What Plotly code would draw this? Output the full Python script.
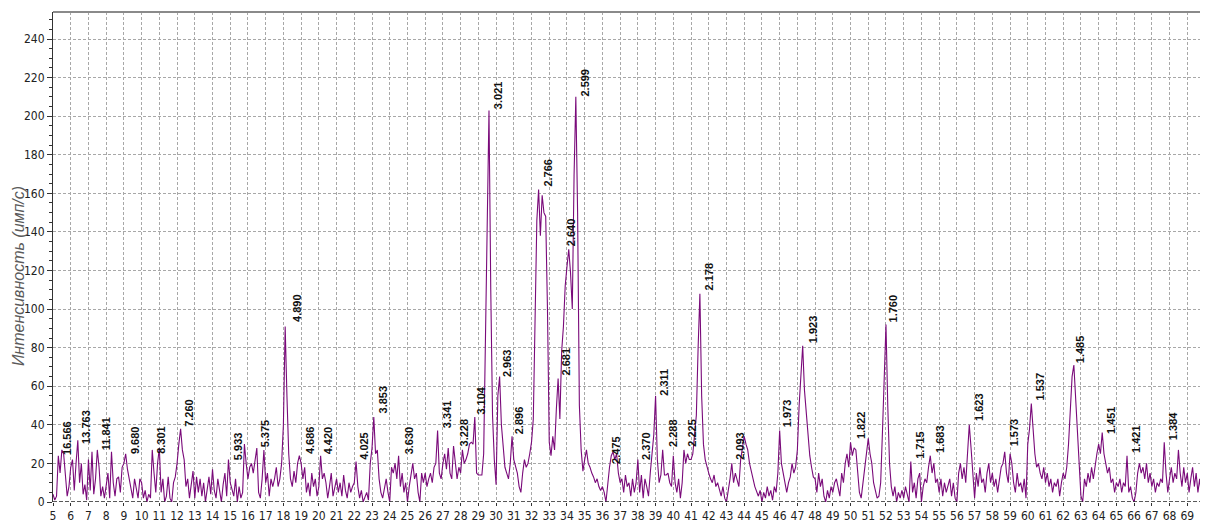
import plotly.graph_objects as go

# 2-theta sampling (degrees), step 0.1 from 5.0 to 70.0
two_theta = [round(5 + i * 0.1, 1) for i in range(651)]

# Intensity (counts/s), 0.1 deg step
i_05_10 = [4, 1, 3, 24, 15, 27, 25, 12, 3, 8,
           18, 22, 6, 20, 32, 10, 20, 4, 9, 1,
           22, 6, 26, 4, 12, 27, 18, 3, 8, 2,
           10, 15, 2, 26, 10, 3, 12, 13, 5, 18,
           20, 25, 17, 12, 8, 2, 12, 6, 2, 12]
i_10_15 = [10, 2, 6, 0, 4, 2, 27, 15, 5, 20,
           28, 5, 12, 0, 3, 13, 2, 0, 10, 13,
           20, 30, 38, 27, 22, 8, 12, 2, 10, 16,
           2, 13, 5, 12, 3, 10, 0, 8, 13, 4,
           17, 6, 2, 12, 5, 0, 9, 15, 3, 22]
i_15_20 = [10, 6, 3, 12, 0, 8, 2, 5, 30, 20,
           12, 18, 20, 15, 22, 28, 5, 2, 12, 27,
           10, 15, 3, 12, 8, 12, 18, 8, 12, 20,
           40, 91, 55, 25, 12, 8, 16, 10, 20, 24,
           20, 12, 18, 5, 10, 3, 15, 8, 12, 3]
i_20_25 = [8, 24, 12, 15, 10, 2, 8, 15, 3, 8,
           12, 5, 10, 3, 14, 6, 2, 10, 5, 8,
           10, 21, 8, 2, 6, 0, 3, 5, 1, 20,
           28, 44, 25, 27, 12, 5, 2, 8, 12, 5,
           0, 18, 15, 20, 12, 24, 8, 15, 5, 10]
i_25_30 = [0, 8, 15, 20, 12, 15, 5, 0, 15, 10,
           15, 8, 12, 15, 10, 18, 20, 37, 15, 12,
           20, 25, 17, 28, 15, 12, 29, 20, 12, 18,
           15, 27, 20, 22, 25, 30, 31, 30, 44, 15,
           14, 14, 14, 25, 80, 140, 203, 110, 45, 22]
i_30_35 = [9, 55, 65, 40, 28, 18, 15, 12, 20, 34,
           22, 18, 15, 8, 5, 15, 22, 18, 20, 25,
           31, 43, 100, 146, 162, 138, 159, 150, 148, 100,
           31, 24, 34, 27, 48, 64, 43, 78, 91, 112,
           122, 131, 119, 100, 169, 210, 150, 50, 27, 16]
i_35_40 = [22, 27, 20, 18, 15, 13, 10, 12, 8, 6,
           8, 5, 0, 10, 18, 24, 26, 22, 25, 15,
           10, 12, 5, 14, 8, 10, 3, 12, 5, 10,
           22, 5, 14, 2, 12, 8, 3, 15, 25, 35,
           55, 22, 10, 14, 27, 14, 14, 15, 10, 8]
i_40_45 = [24, 10, 5, 12, 2, 10, 27, 20, 25, 22,
           22, 25, 35, 45, 80, 108, 55, 30, 22, 18,
           15, 12, 10, 14, 8, 10, 6, 3, 8, 2,
           0, 5, 12, 20, 10, 15, 12, 8, 22, 28,
           34, 30, 27, 20, 15, 12, 8, 5, 3, 6]
i_45_50 = [0, 5, 2, 8, 3, 6, 1, 8, 5, 15,
           37, 20, 15, 8, 5, 10, 13, 20, 15, 18,
           27, 50, 65, 81, 58, 45, 32, 24, 18, 13,
           12, 5, 15, 8, 12, 3, 0, 6, 2, 8,
           5, 10, 12, 8, 3, 15, 10, 20, 25, 18]
i_50_55 = [31, 24, 28, 27, 15, 5, 2, 10, 18, 28,
           33, 25, 20, 10, 5, 2, 3, 10, 36, 60,
           92, 50, 20, 8, 3, 8, 0, 5, 2, 6,
           2, 8, 3, 0, 21, 5, 10, 2, 12, 15,
           0, 8, 12, 10, 18, 24, 15, 20, 10, 12]
i_55_60 = [5, 12, 3, 10, 5, 8, 12, 3, 10, 2,
           0, 15, 20, 12, 18, 10, 25, 40, 28, 12,
           2, 15, 8, 18, 10, 12, 5, 15, 20, 10,
           15, 8, 12, 5, 12, 18, 20, 26, 15, 10,
           25, 20, 10, 5, 15, 8, 10, 5, 12, 2]
i_60_65 = [30, 38, 51, 35, 25, 18, 20, 15, 12, 18,
           10, 15, 8, 12, 5, 10, 8, 12, 3, 10,
           15, 12, 18, 30, 50, 65, 71, 55, 40, 22,
           3, 0, 12, 8, 15, 10, 18, 12, 20, 25,
           30, 25, 36, 25, 20, 15, 18, 10, 12, 5]
i_65_70 = [10, 8, 12, 5, 10, 8, 24, 5, 8, 2,
           0, 5, 15, 20, 15, 18, 12, 20, 10, 15,
           8, 12, 5, 10, 8, 12, 10, 31, 15, 5,
           12, 18, 10, 15, 12, 27, 15, 8, 18, 10,
           15, 5, 12, 18, 8, 15, 5, 12, 3, 10,
           8]

intensity = (i_05_10 + i_10_15 + i_15_20 + i_20_25 + i_25_30 + i_30_35 + i_35_40
             + i_40_45 + i_45_50 + i_50_55 + i_55_60 + i_60_65 + i_65_70)

# d-spacing labels (text, label centre 2-theta, label base intensity)
label_text = ["16.566", "13.763", "11.841", "9.680", "8.301", "7.260", "5.933", "5.375",
              "4.890", "4.686", "4.420", "4.025", "3.853", "3.630", "3.341", "3.228",
              "3.104", "3.021", "2.963", "2.896", "2.766", "2.681", "2.640", "2.599",
              "2.475", "2.370", "2.311", "2.288", "2.225", "2.178", "2.093", "1.973",
              "1.923", "1.822", "1.760", "1.715", "1.683", "1.623", "1.573", "1.537",
              "1.485", "1.451", "1.421", "1.384"]
label_x = [5.75, 6.85, 7.97, 9.67, 11.12, 12.68, 15.44, 16.95, 18.73, 19.49,
           20.52, 22.53, 23.62, 25.09, 27.2, 28.18, 29.17, 30.15, 30.58, 31.34,
           32.93, 33.97, 34.22, 35.0, 36.8, 38.45, 39.46, 39.95, 41.06, 42.0,
           43.75, 46.39, 47.93, 50.58, 52.4, 53.95, 55.08, 57.24, 59.21, 60.68,
           62.99, 64.73, 66.14, 68.2]
label_y = [24, 29.5, 26.4, 24.2, 24.7, 38.5, 21.2, 27.7, 93, 24.2,
           24.2, 21.2, 45.4, 24.2, 38, 28.2, 45, 203, 64.4, 34.5,
           163, 65.3, 132, 209.5, 19, 21.2, 54.7, 28.2, 28.2, 109,
           21.2, 38, 81.7, 32, 92.6, 21.6, 24.7, 41.4, 28.2, 52,
           71.3, 34.5, 24.7, 31.6]

x_ticks = list(range(5, 71))
y_ticks = list(range(0, 241, 20))
y_title = "Интенсивность (имп/с)"

TICK_FONT = "Liberation Sans Narrow, DejaVu Sans Condensed, Arial Narrow, sans-serif"

fig = go.Figure()
fig.add_trace(go.Scatter(
    x=two_theta, y=intensity, mode="lines",
    line=dict(color="#7a0a7a", width=1.1),
    hoverinfo="skip", showlegend=False,
))

for t, lx, ly in zip(label_text, label_x, label_y):
    fig.add_annotation(
        x=lx, y=ly, xref="x", yref="y", text="<b>" + t + "</b>",
        showarrow=False, textangle=-90, xanchor="center", yanchor="bottom",
        borderpad=0, font=dict(family="Liberation Sans, Arial, sans-serif", size=11, color="#111"),
    )

fig.add_annotation(
    x=-0.0304, y=0.461, xref="paper", yref="paper", text="<i>" + y_title + "</i>",
    showarrow=False, textangle=-90, xanchor="center", yanchor="middle",
    font=dict(family="Liberation Sans, Arial, sans-serif", size=16, color="#5a5a5a"),
)

# top border (solid) and dashed baseline at zero
fig.add_shape(type="line", xref="paper", yref="paper", x0=0, x1=1, y0=1, y1=1,
              line=dict(color="#8a8a8a", width=2))
fig.add_shape(type="line", xref="x", yref="y", x0=5, x1=70, y0=0, y1=0,
              line=dict(color="#222", width=1.5, dash="4px,2px"))

# page body has an 8px margin: the figure is sized/offset so the plot area
# lands at the same window position as in the reference
fig.update_layout(
    width=1200, height=518, autosize=False,
    margin=dict(l=45, r=3, t=4, b=15),
    paper_bgcolor="white", plot_bgcolor="white",
    font=dict(family=TICK_FONT, size=12, color="#222"),
    xaxis=dict(
        range=[5, 70], tickmode="array", tickvals=x_ticks,
        ticktext=[str(v) for v in x_ticks],
        showgrid=True, gridcolor="#a8a8a8", griddash="3px,2px", gridwidth=1,
        showline=False, zeroline=False,
        ticks="outside", ticklen=3, tickcolor="#333",
        tickfont=dict(family=TICK_FONT, size=12, color="#222"),
    ),
    yaxis=dict(
        range=[0, 254], tickmode="array", tickvals=y_ticks,
        showgrid=True, gridcolor="#a8a8a8", griddash="3px,2px", gridwidth=1,
        showline=True, linecolor="#333", linewidth=1, zeroline=False,
        ticks="outside", ticklen=5, tickcolor="#333",
        minor=dict(dtick=5, ticks="outside", ticklen=3, tickcolor="#333", showgrid=False),
        tickfont=dict(family=TICK_FONT, size=12, color="#222"),
    ),
)

fig.write_html("out.html")
